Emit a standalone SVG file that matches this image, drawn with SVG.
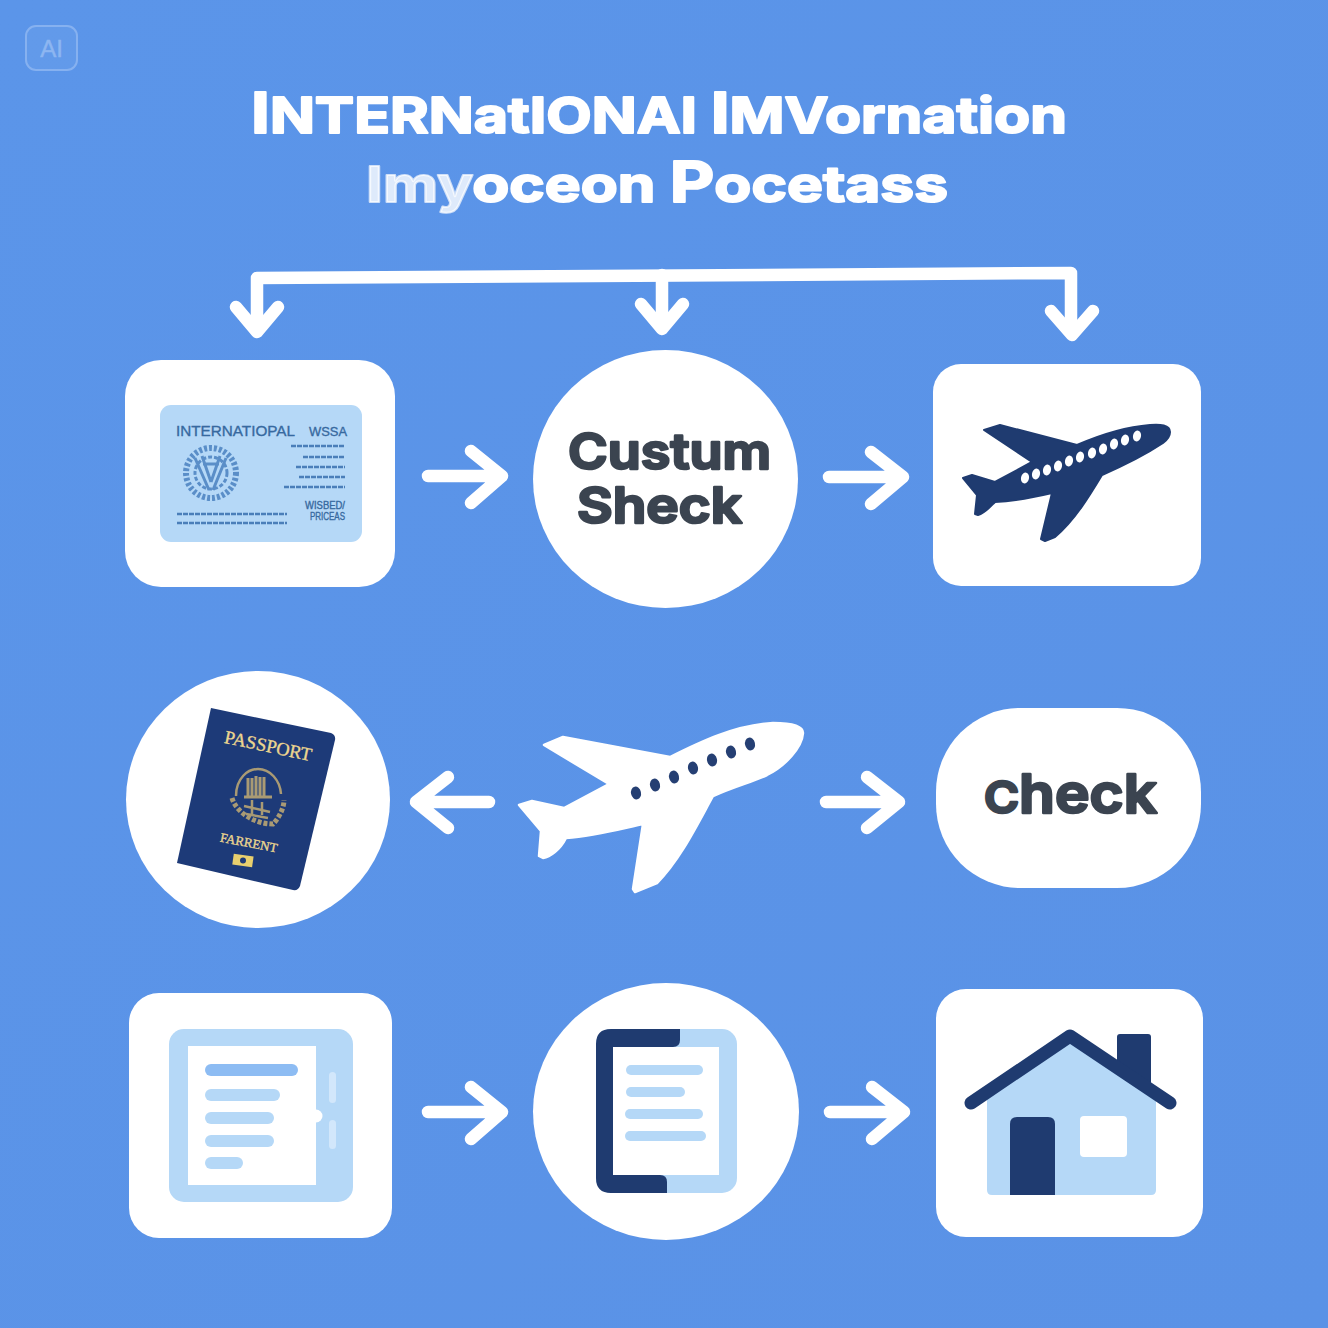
<svg xmlns="http://www.w3.org/2000/svg" width="1328" height="1328" viewBox="0 0 1328 1328">
<defs>
<linearGradient id="bg" x1="0" y1="0" x2="1" y2="1"><stop offset="0" stop-color="#5b95e9"/><stop offset="1" stop-color="#5a92e6"/></linearGradient>
</defs>
<style>
.w{fill:#fff}
.conn{fill:none;stroke:#fff;stroke-width:12.5;stroke-linecap:round;stroke-linejoin:round}
.title{font-family:"Inter","Liberation Sans",sans-serif;font-weight:700;font-size:50px;fill:#fff;stroke:#fff;stroke-width:2;stroke-linejoin:round}
.big{font-size:57px}
.lab{font-family:"Inter","Liberation Sans",sans-serif;font-weight:600;fill:#3b4450;stroke:#3b4450;stroke-width:2.6;stroke-linejoin:round}
.navy{fill:#1f3b70}
.soft{stroke:#1f3b70;stroke-width:2;stroke-linejoin:round}
.softw{stroke:#fff;stroke-width:2.5;stroke-linejoin:round}
.pale{fill:#b5d8f7}
.bar{fill:#b5d8f7}
.tiny{stroke:#4a7eb9;stroke-width:2.4;stroke-dasharray:5 1;fill:none}
.gold{font-family:"Liberation Serif",serif;fill:#ecd68f;stroke:#ecd68f;stroke-width:.35}
.vis{font-family:"Liberation Sans",sans-serif;fill:#37699f;font-weight:400;stroke:#37699f;stroke-width:.35}
</style>
<rect width="1328" height="1328" fill="url(#bg)"/>
<g id="badge">
<rect x="26" y="26" width="51" height="44" rx="10" fill="#6a9fec" fill-opacity=".45" stroke="#86b1f0" stroke-width="2"/>
<text x="51.500" y="57" text-anchor="middle" font-family="Liberation Sans,sans-serif" font-size="24" fill="#8db6f1" stroke="#8db6f1" stroke-width=".5">AI</text>
</g>
<g id="title">
<text class="title" x="251" y="133" textLength="816" lengthAdjust="spacingAndGlyphs"><tspan class="big">I</tspan>NTERNatIONAl <tspan class="big">I</tspan>MVornation</text>
<text class="title" x="366" y="202" textLength="582" lengthAdjust="spacingAndGlyphs"><tspan fill-opacity=".8" stroke-opacity=".7">Imy</tspan>oceon <tspan class="big">P</tspan>ocetass</text>
</g>
<g id="connectors">
<path class="conn" d="M257 325V278L1071 273V326"/>
<path class="conn" d="M662 275V322"/>
<path class="conn" d="M236 307L257 332L278 307M641 304L662 329L683 304M1051 311L1072 335L1093 311"/>
<path class="conn" d="M428 476H500M471 451L502 476L471 503"/>
<path class="conn" d="M829 477H902M871 452L903 477L871 504"/>
<path class="conn" d="M489 802H417M448 777L416 802L448 828"/>
<path class="conn" d="M826 802H898M867 777L899 802L867 828"/>
<path class="conn" d="M428 1112H500M471 1087L502 1112L471 1139"/>
<path class="conn" d="M830 1112H903M872 1087L904 1112L872 1139"/>
</g>
<g id="node-visa">
<rect class="w" x="125" y="360" width="270" height="227" rx="36"/>
<rect x="160" y="405" width="202" height="137" rx="11" fill="#b5d8f7"/>
<text class="vis" x="176" y="436" font-size="15" textLength="119" lengthAdjust="spacingAndGlyphs">INTERNATIOPAL</text>
<text class="vis" x="309" y="436" font-size="13" textLength="38" lengthAdjust="spacingAndGlyphs">WSSA</text>
<g fill="none" stroke="#5a8ec8">
<circle cx="211" cy="473" r="25" stroke-width="6" stroke-dasharray="3 2"/>
<circle cx="211" cy="473" r="16" stroke-width="3" stroke-dasharray="4 2"/>
<path d="M195 458L209 490M226 458L213 490M202 456L211 482M220 456L211 482M203 464H219" stroke-width="3"/>
</g>
<path class="tiny" d="M291 446H345M303 457H345M296 467H345M299 477H345M284 487H345"/>
<path class="tiny" d="M177 514H287M177 523H287" stroke-dasharray="7 1"/>
<text class="vis" x="305" y="509" font-size="10" textLength="40" lengthAdjust="spacingAndGlyphs">WISBED/</text>
<text class="vis" x="310" y="520" font-size="10" textLength="35" lengthAdjust="spacingAndGlyphs">PRICEAS</text>
</g>
<g id="node-custom">
<ellipse class="w" cx="665.500" cy="479" rx="132.500" ry="129"/>
<text class="lab" x="568" y="469" font-size="49" textLength="203" lengthAdjust="spacingAndGlyphs">Custum</text>
<text class="lab" x="577" y="523" font-size="49" textLength="165" lengthAdjust="spacingAndGlyphs">Sheck</text>
</g>
<g id="node-plane">
<rect class="w" x="933" y="364" width="268" height="222" rx="28"/>
<path class="navy soft" d="M1170 432C1170 425 1160 424 1150 425C1125 427 1100 435 1077 445L1000 425L984 430L1032 462L995 482L972 475L963 478L977 495L975 514L978 515C985 513 990 507 995 502C1015 501 1035 497 1052 493L1041 539L1045 541L1055 537C1075 520 1090 495 1102 475C1125 465 1145 455 1163 443C1167 440 1170 436 1170 432Z"/>
<g fill="#fff">
<ellipse cx="1025" cy="478" rx="4" ry="5.500" transform="rotate(14 1025 478)"/>
<ellipse cx="1036" cy="474" rx="4" ry="5.500" transform="rotate(14 1036 474)"/>
<ellipse cx="1047" cy="470" rx="4" ry="5.500" transform="rotate(14 1047 470)"/>
<ellipse cx="1058" cy="466" rx="4" ry="5.500" transform="rotate(14 1058 466)"/>
<ellipse cx="1069" cy="461" rx="4" ry="5.500" transform="rotate(14 1069 461)"/>
<ellipse cx="1080" cy="457" rx="4" ry="5.500" transform="rotate(14 1080 457)"/>
<ellipse cx="1092" cy="453" rx="4" ry="5.500" transform="rotate(14 1092 453)"/>
<ellipse cx="1103" cy="449" rx="4" ry="5.500" transform="rotate(14 1103 449)"/>
<ellipse cx="1114" cy="444" rx="4" ry="5.500" transform="rotate(14 1114 444)"/>
<ellipse cx="1125" cy="440" rx="4" ry="5.500" transform="rotate(14 1125 440)"/>
<ellipse cx="1137" cy="436" rx="4" ry="5.500" transform="rotate(14 1137 436)"/>
</g>
</g>
<g id="node-passport">
<ellipse class="w" cx="258" cy="799.500" rx="132" ry="128.500"/>
<path d="M211 708L331 733Q336 735 335 740L300 886Q298 891 293 890L177 863Z" fill="#1d3a78"/>
<text class="gold" x="0" y="0" font-size="18.500" text-anchor="middle" transform="translate(267 752) rotate(12)">PASSPORT</text>
<g fill="none" stroke="#a99a74" stroke-width="2.500">
<path d="M236 796C236 778 248 769 258 769C270 769 280 780 281 794"/>
<path d="M248 778V797M252 778V797M256 776V797M260 777V797M264 777V797M244 797H272" stroke-width="3"/>
<path d="M232 798C236 812 254 824 273 824C279 818 284 808 284 800" stroke-width="5" stroke-dasharray="4 2"/>
<path d="M244 806L270 812M246 814L268 818M252 800V814M262 802V815"/>
</g>
<text class="gold" x="0" y="0" font-size="13" text-anchor="middle" transform="translate(248 847) rotate(11)">FARRENT</text>
<rect x="233" y="855" width="20" height="11" fill="#e8cf6e" transform="rotate(8 243 860)"/>
<circle cx="243" cy="860.500" r="3" fill="#1d3a78"/>
</g>
<g id="node-plane-center">
<path class="w softw" d="M803 733C803 726 790 723 773 723C735 725 700 742 670 757L563 737L544 745L609 784L564 808L532 801L519 805L541 831L539 856L543 858C550 857 560 850 566 838C595 836 620 829 643 824L633 889L635 892L657 883C680 860 697 825 713 796C735 786 752 782 767 775C785 766 802 748 803 733Z"/>
<g fill="#253f73">
<ellipse cx="636" cy="793" rx="5" ry="6.500" transform="rotate(-12 636 793)"/>
<ellipse cx="655" cy="785" rx="5" ry="6.500" transform="rotate(-12 655 785)"/>
<ellipse cx="674" cy="777" rx="5" ry="6.500" transform="rotate(-12 674 777)"/>
<ellipse cx="693" cy="768" rx="5" ry="6.500" transform="rotate(-12 693 768)"/>
<ellipse cx="712" cy="760" rx="5" ry="6.500" transform="rotate(-12 712 760)"/>
<ellipse cx="731" cy="752" rx="5" ry="6.500" transform="rotate(-12 731 752)"/>
<ellipse cx="750" cy="744" rx="5" ry="6.500" transform="rotate(-12 750 744)"/>
</g>
</g>
<g id="node-check">
<rect class="w" x="936" y="708" width="265" height="180" rx="84"/>
<text class="lab" x="984" y="813" font-size="54" textLength="173" lengthAdjust="spacingAndGlyphs"><tspan font-size="44">C</tspan>heck</text>
</g>
<g id="node-tablet">
<rect class="w" x="129" y="993" width="263" height="245" rx="30"/>
<rect class="pale" x="169" y="1029" width="184" height="173" rx="15"/>
<rect class="w" x="188" y="1046" width="128" height="139"/>
<circle class="w" cx="316" cy="1116" r="6.500"/>
<rect x="205" y="1064" width="93" height="12" rx="6" fill="#8dbcf3"/>
<rect class="bar" x="205" y="1089" width="75" height="12" rx="6"/>
<rect class="bar" x="205" y="1112" width="69" height="12" rx="6"/>
<rect class="bar" x="205" y="1135" width="69" height="12" rx="6"/>
<rect class="bar" x="205" y="1157" width="38" height="12" rx="6"/>
<rect x="329" y="1072" width="7" height="31" rx="3.500" fill="#d2e7fb"/>
<rect x="329" y="1120" width="7" height="29" rx="3.500" fill="#d2e7fb"/>
</g>
<g id="node-doc">
<ellipse class="w" cx="666" cy="1111.500" rx="133" ry="128.500"/>
<rect class="pale" x="596" y="1029" width="141" height="164" rx="15"/>
<path class="navy" d="M680 1029V1040Q680 1047 673 1047H613V1175H660Q667 1175 667 1182V1193H611Q596 1193 596 1178V1044Q596 1029 611 1029Z"/>
<rect class="w" x="613" y="1047" width="106" height="128"/>
<rect class="bar" x="626" y="1065" width="77" height="10" rx="5"/>
<rect class="bar" x="626" y="1087" width="59" height="10" rx="5"/>
<rect class="bar" x="625" y="1109" width="78" height="10" rx="5"/>
<rect class="bar" x="625" y="1131" width="81" height="10" rx="5"/>
</g>
<g id="node-house">
<rect class="w" x="936" y="989" width="267" height="248" rx="30"/>
<path class="pale" d="M987 1095L1070 1040L1156 1100V1190Q1156 1195 1151 1195H992Q987 1195 987 1190Z"/>
<path class="navy" d="M1120 1034H1148Q1151 1034 1151 1037V1088L1117 1066V1037Q1117 1034 1120 1034Z"/>
<path d="M971 1103L1070 1036L1170 1103" fill="none" stroke="#1f3b70" stroke-width="13" stroke-linecap="round" stroke-linejoin="round"/>
<path class="navy" d="M1010 1195V1124Q1010 1117 1017 1117H1048Q1055 1117 1055 1124V1195Z"/>
<rect class="w" x="1080" y="1116" width="47" height="41" rx="4"/>
</g>
</svg>
